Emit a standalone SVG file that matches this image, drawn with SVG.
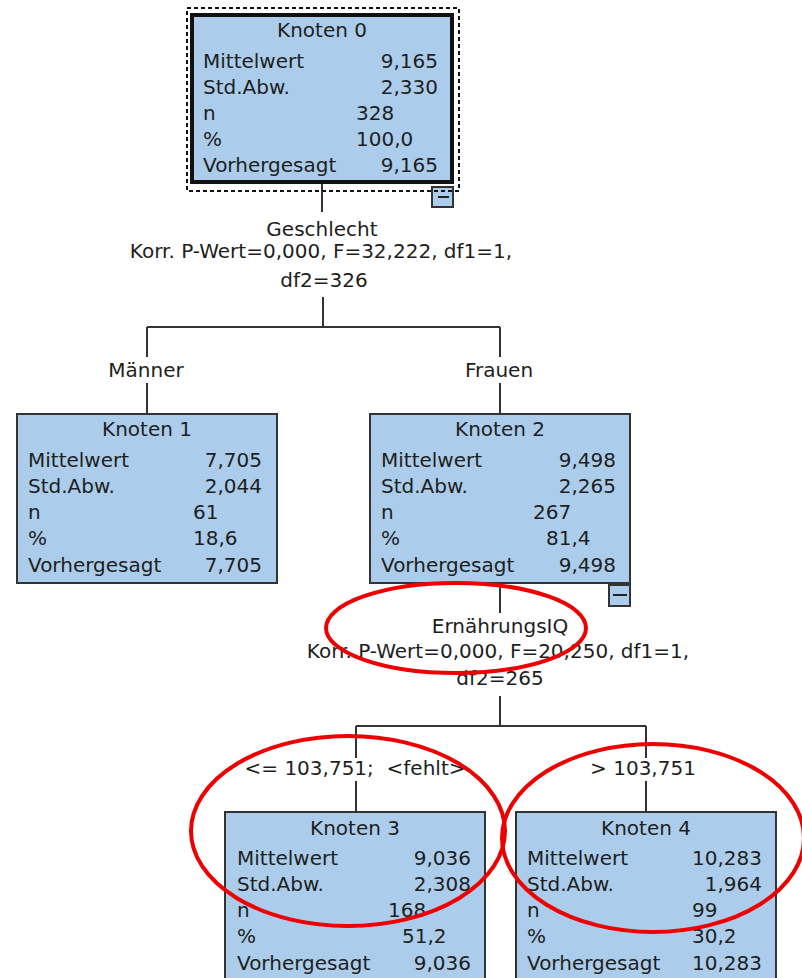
<svg xmlns="http://www.w3.org/2000/svg" width="802" height="978" viewBox="0 0 802 978">
<style>
text{font-family:"DejaVu Sans","Liberation Sans",sans-serif;font-size:20px;fill:#1e1e1e}
.c{text-anchor:middle}
.r{text-anchor:end}
.box{fill:#abcdeb;stroke:#333;stroke-width:2}
.con{stroke:#333;stroke-width:2;fill:none}
.hl{fill:none;stroke:#ee0000;stroke-width:4}
</style>
<rect width="802" height="978" fill="#fff"/>
<g id="connectors">
<path class="con" d="M322 184V212M323 297V327M147 327H500M147 327V357M147 383V413M500 327V357M500 383V413M500 584V613M500 696V726M356 726H646M356 726V758M356 781V811M646 726V758M646 781V811"/>
</g>
<g id="split0">
<text class="c" x="322" y="236">Geschlecht</text>
<text class="c" x="321" y="258">Korr. P-Wert=0,000, F=32,222, df1=1,</text>
<text class="c" x="324" y="287">df2=326</text>
</g>
<g id="label1"><text class="c" x="146" y="377">Männer</text></g>
<g id="label2"><text class="c" x="499" y="377">Frauen</text></g>
<g id="split2">
<text class="c" x="500" y="633">ErnährungsIQ</text>
<text class="c" x="498" y="658">Korr. P-Wert=0,000, F=20,250, df1=1,</text>
<text class="c" x="500" y="685">df2=265</text>
</g>
<g id="label3"><text class="c" x="355" y="775" xml:space="preserve">&lt;= 103,751;  &lt;fehlt&gt;</text></g>
<g id="label4"><text class="c" x="643" y="775">&gt; 103,751</text></g>
<g id="node0">
<rect x="432" y="187" width="21" height="20" class="box"/>
<path d="M438 197H449" stroke="#222" stroke-width="2"/>
<rect x="192" y="15" width="260" height="167" fill="#abcdeb" stroke="#111" stroke-width="4"/>
<rect x="187" y="8" width="272" height="183" fill="none" stroke="#111" stroke-width="2" stroke-dasharray="4 3"/>
<text class="c" x="322" y="37">Knoten 0</text>
<text x="203" y="68">Mittelwert</text><text class="r" x="438" y="68">9,165</text>
<text x="203" y="94">Std.Abw.</text><text class="r" x="438" y="94">2,330</text>
<text x="203" y="120">n</text><text x="356" y="120">328</text>
<text x="203" y="146">%</text><text x="356" y="146">100,0</text>
<text x="203" y="172">Vorhergesagt</text><text class="r" x="438" y="172">9,165</text>
</g>
<g id="node1">
<rect x="17" y="414" width="260" height="169" class="box"/>
<text class="c" x="147" y="436">Knoten 1</text>
<text x="28" y="467">Mittelwert</text><text class="r" x="262" y="467">7,705</text>
<text x="28" y="493">Std.Abw.</text><text class="r" x="262" y="493">2,044</text>
<text x="28" y="519">n</text><text x="193" y="519">61</text>
<text x="28" y="545">%</text><text x="193" y="545">18,6</text>
<text x="28" y="572">Vorhergesagt</text><text class="r" x="262" y="572">7,705</text>
</g>
<g id="node2">
<rect x="609" y="585" width="21" height="21" class="box"/>
<path d="M613 595H627" stroke="#222" stroke-width="2"/>
<rect x="370" y="414" width="260" height="169" class="box"/>
<text class="c" x="500" y="436">Knoten 2</text>
<text x="381" y="467">Mittelwert</text><text class="r" x="616" y="467">9,498</text>
<text x="381" y="493">Std.Abw.</text><text class="r" x="616" y="493">2,265</text>
<text x="381" y="519">n</text><text x="533" y="519">267</text>
<text x="381" y="545">%</text><text x="546" y="545">81,4</text>
<text x="381" y="572">Vorhergesagt</text><text class="r" x="616" y="572">9,498</text>
</g>
<g id="node3">
<rect x="225" y="812" width="260" height="180" class="box"/>
<text class="c" x="355" y="835">Knoten 3</text>
<text x="237" y="865">Mittelwert</text><text class="r" x="471" y="865">9,036</text>
<text x="237" y="891">Std.Abw.</text><text class="r" x="471" y="891">2,308</text>
<text x="237" y="917">n</text><text x="388" y="917">168</text>
<text x="237" y="943">%</text><text x="402" y="943">51,2</text>
<text x="237" y="970">Vorhergesagt</text><text class="r" x="471" y="970">9,036</text>
</g>
<g id="node4">
<rect x="516" y="812" width="260" height="180" class="box"/>
<text class="c" x="646" y="835">Knoten 4</text>
<text x="527" y="865">Mittelwert</text><text class="r" x="762" y="865">10,283</text>
<text x="527" y="891">Std.Abw.</text><text class="r" x="762" y="891">1,964</text>
<text x="527" y="917">n</text><text x="692" y="917">99</text>
<text x="527" y="943">%</text><text x="692" y="943">30,2</text>
<text x="527" y="970">Vorhergesagt</text><text class="r" x="762" y="970">10,283</text>
</g>
<g id="highlights">
<ellipse class="hl" cx="456" cy="628" rx="130" ry="45"/>
<ellipse class="hl" cx="348" cy="831" rx="157" ry="95"/>
<ellipse class="hl" cx="653" cy="838" rx="151" ry="94"/>
</g>
</svg>
